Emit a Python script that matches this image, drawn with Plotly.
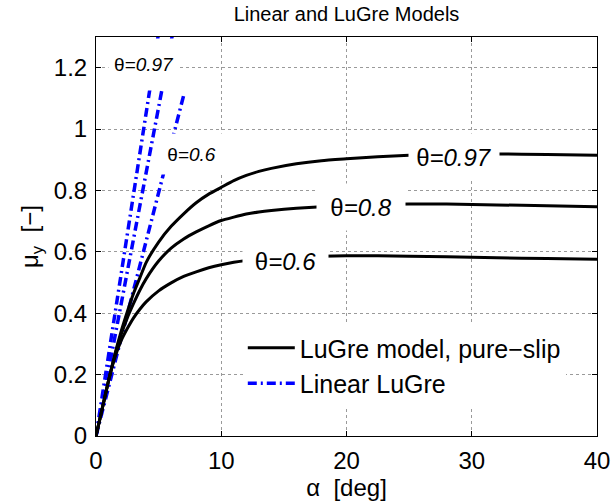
import plotly.graph_objects as go

# ---- data ----
alpha = [0, 0.5, 1, 1.5, 2, 2.5, 3, 3.5, 4, 5, 6, 7, 8, 9, 10, 11, 12, 13, 14, 16, 18, 20, 22.5, 25, 28, 32, 36, 40]
mu_097 = [0, 0.09, 0.18, 0.265, 0.34, 0.405, 0.465, 0.515, 0.565, 0.632, 0.683, 0.724, 0.76, 0.788, 0.81, 0.832, 0.849, 0.862, 0.872, 0.887, 0.897, 0.903, 0.91, 0.915, 0.918, 0.919, 0.917, 0.915]
mu_08 = [0, 0.09, 0.18, 0.262, 0.33, 0.385, 0.432, 0.475, 0.512, 0.57, 0.612, 0.642, 0.665, 0.685, 0.702, 0.713, 0.723, 0.73, 0.735, 0.742, 0.747, 0.751, 0.754, 0.756, 0.756, 0.753, 0.75, 0.747]
mu_06 = [0, 0.09, 0.18, 0.255, 0.31, 0.35, 0.385, 0.413, 0.437, 0.473, 0.499, 0.52, 0.535, 0.548, 0.558, 0.566, 0.572, 0.576, 0.579, 0.583, 0.586, 0.587, 0.587, 0.586, 0.584, 0.581, 0.578, 0.576]

lin_alpha = [0, 7.0]
lin_mu_097 = [0, 1.84]
lin_mu_08 = [0, 1.50]
lin_mu_06 = [0, 1.11]

x_ticks = [0, 10, 20, 30, 40]
y_ticks = [0, 0.2, 0.4, 0.6, 0.8, 1.0, 1.2]

FONT = "Liberation Sans, Arial, Helvetica, sans-serif"

fig = go.Figure()

# linear LuGre (blue dash-dot)
for i, mu in enumerate([lin_mu_097, lin_mu_08, lin_mu_06]):
    fig.add_trace(go.Scatter(
        x=lin_alpha, y=mu, mode="lines",
        line=dict(color="#0000ff", width=3.5, dash="9px,4px,2px,4px"),
        name="Linear LuGre", legendgroup="lin", showlegend=(i == 0),
        legendrank=2,
    ))

# LuGre model curves (black)
for i, m in enumerate([mu_097, mu_08, mu_06]):
    fig.add_trace(go.Scatter(
        x=alpha, y=m, mode="lines",
        line=dict(color="black", width=3, shape="spline", smoothing=0.5),
        name="LuGre model, pure\u2212slip", legendgroup="lugre", showlegend=(i == 0),
        legendrank=1,
    ))

# contour-like labels with white boxes
labels = [
    (28.6, 0.909, "θ<i>=0.97</i>", 24, 90, 46),
    (21.15, 0.746, "θ<i>=0.8</i>", 24, 88, 46),
    (15.13, 0.569, "θ<i>=0.6</i>", 24, 85, 44),
    (3.83, 1.212, "θ<i>=0.97</i>", 19, 70, 51),
    (7.63, 0.918, "θ<i>=0.6</i>", 19, 67, 40),
]
for x, y, t, fs, w, h in labels:
    fig.add_annotation(x=x, y=y, xref="x", yref="y", text=t, showarrow=False,
                       font=dict(size=fs, color="black", family=FONT),
                       bgcolor="white", width=w, height=h, borderpad=0,
                       align="center", valign="middle")

axis_common = dict(
    showline=True, linecolor="black", linewidth=1, mirror="ticks",
    ticks="inside", ticklen=5, tickcolor="black",
    showgrid=True, gridcolor="#9a9a9a", griddash="dot", gridwidth=1,
    zeroline=False, tickfont=dict(size=24, color="black", family=FONT),
    ticklabelstandoff=3, automargin=False,
)

fig.update_xaxes(range=[0, 40], tickvals=x_ticks, **axis_common,
                 title=dict(text="α\u00a0\u00a0[deg]", font=dict(size=24, color="black", family=FONT), standoff=4))
fig.update_yaxes(range=[0, 1.3], tickvals=y_ticks, **axis_common,
                 title=dict(text="μ<sub>y</sub>\u00a0\u00a0[−]", font=dict(size=24, color="black", family=FONT), standoff=8))

fig.update_layout(
    width=612, height=502,
    margin=dict(l=96, r=15, t=37, b=66, autoexpand=False),
    paper_bgcolor="white", plot_bgcolor="white",
    title=dict(text="Linear and LuGre Models", xref="paper", x=0.5, xanchor="center",
               yref="container", y=0.973, yanchor="middle",
               font=dict(size=20, color="black", family=FONT)),
    showlegend=True,
    legend=dict(x=0.293, y=0.278, xanchor="left", yanchor="top",
                bgcolor="white", borderwidth=0, itemwidth=47,
                font=dict(size=25, color="black", family=FONT),
                tracegroupgap=0),
    font=dict(family=FONT),
)

fig.write_html("out.html")
